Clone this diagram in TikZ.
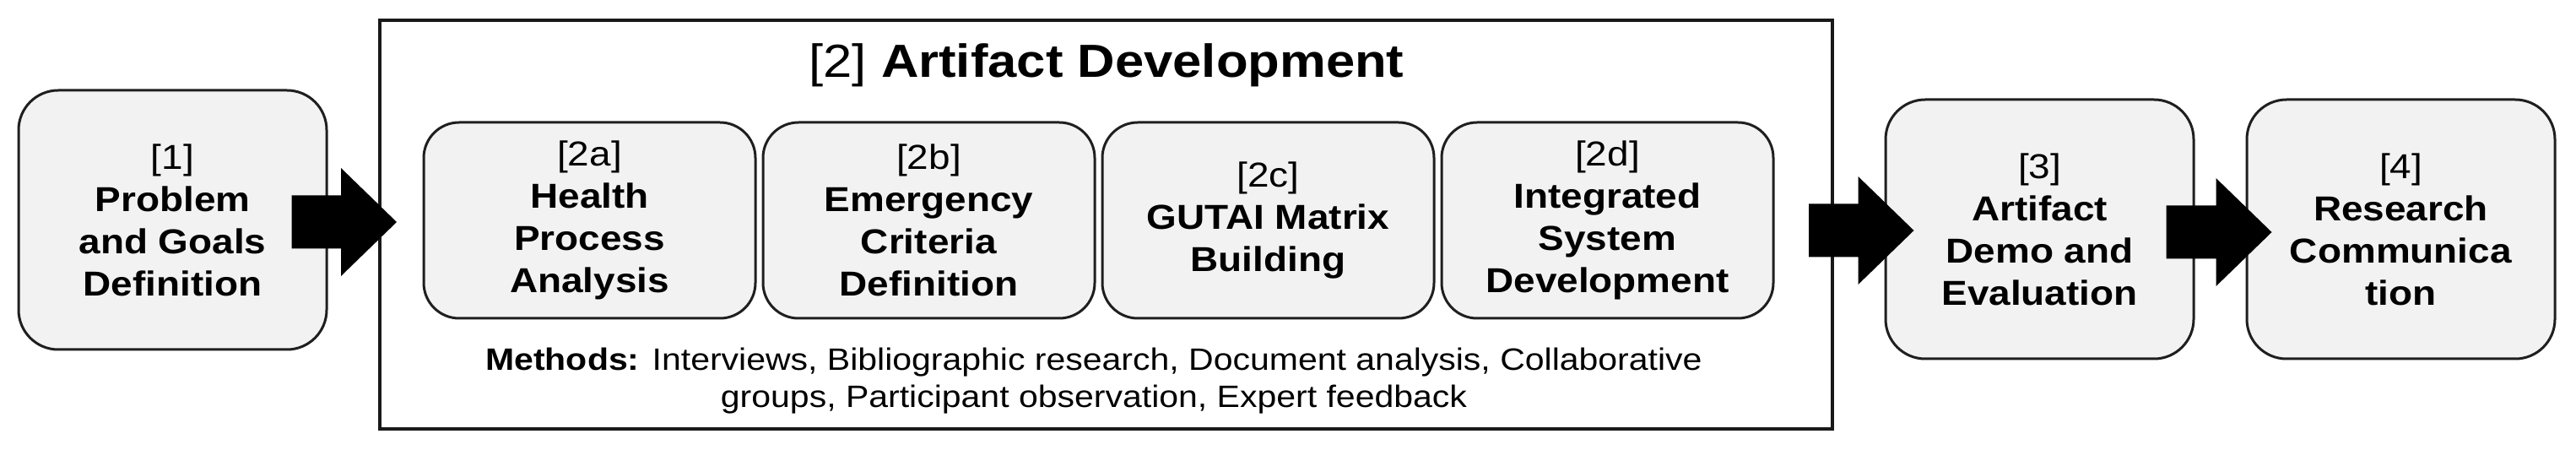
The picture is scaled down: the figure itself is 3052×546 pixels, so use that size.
\documentclass[tikz,border=0pt]{standalone}
\usepackage{fontspec}
\setmainfont{Liberation Sans}[FakeStretch=1.12]
\usetikzlibrary{positioning,calc}

\newcommand{\blockarrow}[2]{%
  \fill [black] ($(#1)+(0,31.5)$) -- ($(#2)+(-66,31.5)$) -- ($(#2)+(-66,64)$)
     -- (#2) -- ($(#2)+(-66,-64)$) -- ($(#2)+(-66,-31.5)$) -- ($(#1)+(0,-31.5)$) -- cycle;}

\begin{document}
\begin{tikzpicture}[x=1pt,y=1pt]
\tikzset{ stagebox/.style={draw=black!88, line width=3pt, fill=black!5, rounded corners=47pt,
            minimum width=365pt, minimum height=307pt, align=center, inner sep=0pt,
            font=\fontsize{41}{50}\selectfont},
          subbox/.style={stagebox, rounded corners=42pt, minimum width=393pt, minimum height=232pt},
        }

\useasboundingbox (0,0) rectangle (3052,546);

\node [draw=black!90, line width=4pt, minimum width=1721pt, minimum height=484pt, inner sep=0pt] (dev) at (1310.5,280) {};

\node [anchor=base, font=\fontsize{55}{60}\selectfont] (devtitle) at (1311,454) {[2] \textbf{Artifact Development}};

\node [stagebox] (prob) at (204.5,285.5) {[1]\\\textbf{Problem}\\\textbf{and Goals}\\\textbf{Definition}};

\node [subbox] (hpa) at (698.5,285) {[2a]\\\textbf{Health}\\\textbf{Process}\\\textbf{Analysis}};
\node [subbox, right=6pt of hpa] (ecd) {[2b]\\\textbf{Emergency}\\\textbf{Criteria}\\\textbf{Definition}};
\node [subbox, right=6pt of ecd] (gmb) {[2c]\\\textbf{GUTAI Matrix}\\\textbf{Building}};
\node [subbox, right=6pt of gmb] (isd) {[2d]\\\textbf{Integrated}\\\textbf{System}\\\textbf{Development}};

\node [align=center, font=\fontsize{36.6}{44}\selectfont] (methods) at (1296,95)
  {\textbf{Methods:} Interviews, Bibliographic research, Document analysis, Collaborative\\
   groups, Participant observation, Expert feedback};

\node [stagebox] (ade) at (2416.5,274.5) {[3]\\\textbf{Artifact}\\\textbf{Demo and}\\\textbf{Evaluation}};
\node [stagebox] (rcom) at (2844.5,274.5) {[4]\\\textbf{Research}\\\textbf{Communica}\\\textbf{tion}};

\coordinate (a1s) at ($(prob.east)+(-43,-2.5)$);
\coordinate (a1t) at ($(dev.west |- a1s)+(22,0)$);
\coordinate (a2s) at ($(dev.east)+(-30,-7)$);
\coordinate (a2t) at ($(ade.west |- a2s)+(35,0)$);
\coordinate (a3s) at ($(ade.east)+(-34,-3.5)$);
\coordinate (a3t) at ($(rcom.west |- a3s)+(31,0)$);

\blockarrow{a1s}{a1t}
\blockarrow{a2s}{a2t}
\blockarrow{a3s}{a3t}
\end{tikzpicture}
\end{document}
